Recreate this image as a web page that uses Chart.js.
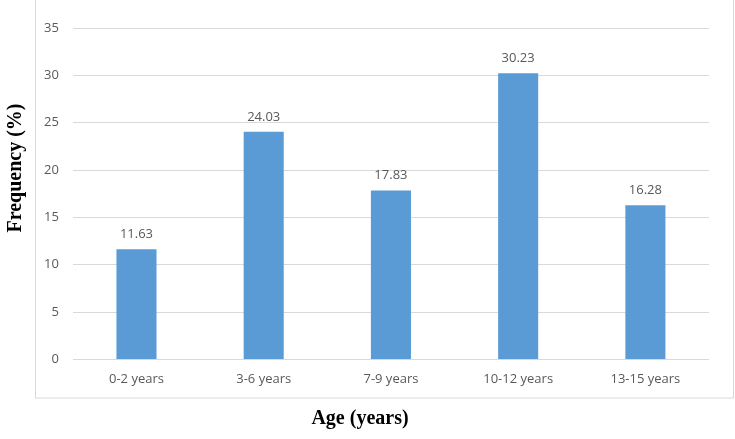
<!DOCTYPE html>
<html>
<head>
<meta charset="utf-8">
<script src="https://cdn.jsdelivr.net/npm/chart.js@4/dist/chart.umd.min.js"></script>
<style>
  html, body { margin: 0; padding: 0; background: #fff; }
  #wrap { width: 735px; height: 439px; position: relative; }
</style>
</head>
<body>
<div id="wrap"><canvas id="ageChart"></canvas></div>
<script>
    const ageGroups = ['0-2 years', '3-6 years', '7-9 years', '10-12 years', '13-15 years'];
    const frequency = [11.63, 24.03, 17.83, 30.23, 16.28];
    const yTicks = [0, 5, 10, 15, 20, 25, 30, 35];
    const xTitle = 'Age (years)';
    const yTitle = 'Frequency (%)';

    // Gray frame around the plot, axis titles drawn outside it
    const framePlugin = {
        id: 'frame',
        beforeDraw(chart) {
            const ctx = chart.ctx;
            ctx.save();
            ctx.strokeStyle = '#d9d9d9';
            ctx.lineWidth = 1;
            ctx.strokeRect(35.5, -5, 698, 403);

            ctx.fillStyle = '#000';
            ctx.font = 'bold 20px "Liberation Serif"';
            ctx.textAlign = 'center';
            ctx.textBaseline = 'middle';
            ctx.fillText(xTitle, 360, 419);

            ctx.translate(16, 168);
            ctx.rotate(-Math.PI / 2);
            ctx.fillText(yTitle, 0, 0);
            ctx.restore();
        }
    };

    // Value labels above each bar
    const valueLabels = {
        id: 'valueLabels',
        afterDatasetsDraw(chart) {
            const ctx = chart.ctx;
            const meta = chart.getDatasetMeta(0);
            ctx.save();
            ctx.fillStyle = '#595959';
            ctx.font = '13px "Open Sans"';
            ctx.textAlign = 'center';
            ctx.textBaseline = 'middle';
            meta.data.forEach((bar, i) => {
                ctx.fillText(frequency[i].toFixed(2), bar.x, bar.y - 15);
            });
            ctx.restore();
        }
    };

    const ctx = document.getElementById('ageChart').getContext('2d');
    const ageChart = new Chart(ctx, {
        type: 'bar',
        data: {
            labels: ageGroups,
            datasets: [{
                label: yTitle,
                data: frequency,
                backgroundColor: '#5b9bd5',
                borderWidth: 0,
                barPercentage: 0.63,
                categoryPercentage: 0.5
            }]
        },
        options: {
            responsive: true,
            maintainAspectRatio: false,
            animation: false,
            layout: { padding: { left: 30, right: 26, top: 28, bottom: 40 } },
            plugins: {
                legend: { display: false },
                tooltip: { enabled: false }
            },
            scales: {
                x: {
                    grid: { display: false, drawTicks: false },
                    border: { display: false },
                    ticks: {
                        color: '#595959',
                        font: { family: 'Open Sans', size: 13 },
                        padding: 12,
                        maxRotation: 0
                    }
                },
                y: {
                    min: 0,
                    max: 35,
                    afterBuildTicks(scale) {
                        scale.ticks = yTicks.map(v => ({ value: v }));
                    },
                    grid: { color: '#d9d9d9', drawTicks: false },
                    border: { display: false },
                    ticks: {
                        color: '#595959',
                        font: { family: 'Open Sans', size: 13 },
                        padding: 14
                    }
                }
            }
        },
        plugins: [framePlugin, valueLabels]
    });
</script>
</body>
</html>
